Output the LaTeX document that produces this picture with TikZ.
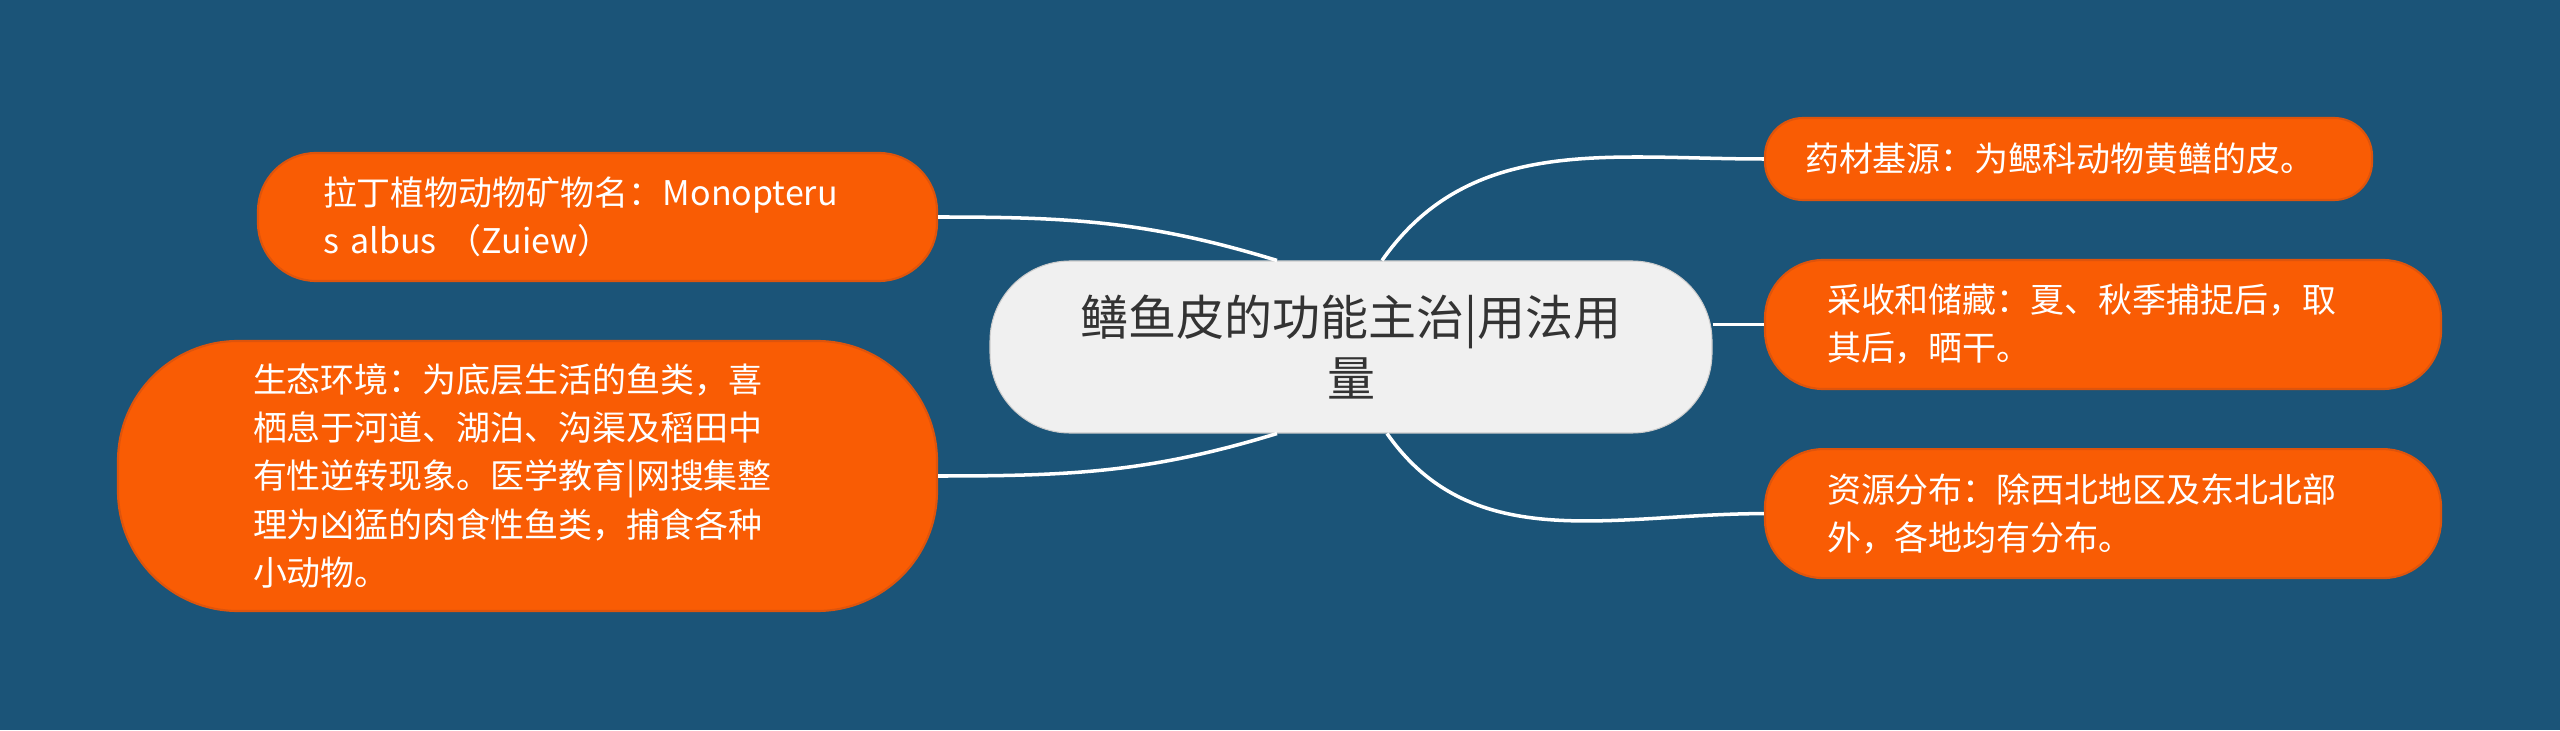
\documentclass[tikz,border=0pt]{standalone}
\usepackage{fontspec}
\setmainfont{Noto Sans CJK SC}
\usepackage{tikz}
\usetikzlibrary{positioning}

\definecolor{bgblue}{RGB}{27,84,120}
\definecolor{leaforange}{RGB}{249,92,4}
\definecolor{leafedge}{RGB}{222,84,12}
\definecolor{rootgray}{RGB}{240,240,240}
\definecolor{roottext}{RGB}{51,51,51}

\hyphenpenalty=10000
\exhyphenpenalty=10000

\tikzset{
    root/.style={rectangle, rounded corners=0.8cm, fill=rootgray, draw=rootgray!85!black, line width=0.3pt,
        text=roottext, align=center, inner sep=0pt, minimum width=7.22cm, minimum height=1.72cm,
        font=\fontsize{13.66pt}{17.4pt}\selectfont},
    leaf/.style={rectangle, fill=leaforange, draw=leafedge, line width=0.6pt, text=white,
        align=left, inner sep=0pt, font=\fontsize{9.67pt}{13.66pt}\selectfont},
    branch/.style={draw=white, line width=1pt}
}

\begin{document}
\begin{tikzpicture}
                \fill[bgblue] (0,0) rectangle (25.6,7.3);

                \node[root] (root) at (13.51,3.83) {鳝鱼皮的功能主治|用法用\\量};
                \node[leaf, rounded corners=0.38cm, minimum width=6.07cm, minimum height=0.82cm, text width=5.27cm]
                    (source) at (20.685,5.71) {药材基源：为鳃科动物黄鳝的皮。};
                \node[leaf, rounded corners=0.58cm, minimum width=6.76cm, minimum height=1.29cm, text width=5.52cm]
                    (harvest) at (21.03,4.055) {采收和储藏：夏、秋季捕捉后，取\\其后，晒干。};
                \node[leaf, rounded corners=0.58cm, minimum width=6.76cm, minimum height=1.29cm, text width=5.52cm,
                    below=0.58cm of harvest] (spread) {资源分布：除西北地区及东北北部\\外，各地均有分布。};
                \node[leaf, rounded corners=0.58cm, minimum width=6.79cm, minimum height=1.28cm, text width=5.49cm]
                    (latin) at (5.975,5.13) {拉丁植物动物矿物名：Monopteru\\s albus （Zuiew）};
                \node[leaf, rounded corners=1.2cm, minimum width=8.19cm, minimum height=2.70cm, text width=5.49cm]
                    (habitat) at (5.275,2.54) {生态环境：为底层生活的鱼类，喜\\栖息于河道、湖泊、沟渠及稻田中\\有性逆转现象。医学教育|网搜集整\\理为凶猛的肉食性鱼类，捕食各种\\小动物。};

                \path[branch]
                    ([xshift=-0.74cm]root.north) edge[out=163, in=0] (latin.east)
                    ([xshift=-0.74cm]root.south) edge[out=197, in=0] (habitat.east)
                    ([xshift=0.31cm]root.north) edge[out=55, in=180] (source.west)
                    (harvest.west -| root.east) edge (harvest.west)
                    ([xshift=0.36cm]root.south) edge[out=-55, in=180] (spread.west)
                    ;
            \end{tikzpicture}
\end{document}
